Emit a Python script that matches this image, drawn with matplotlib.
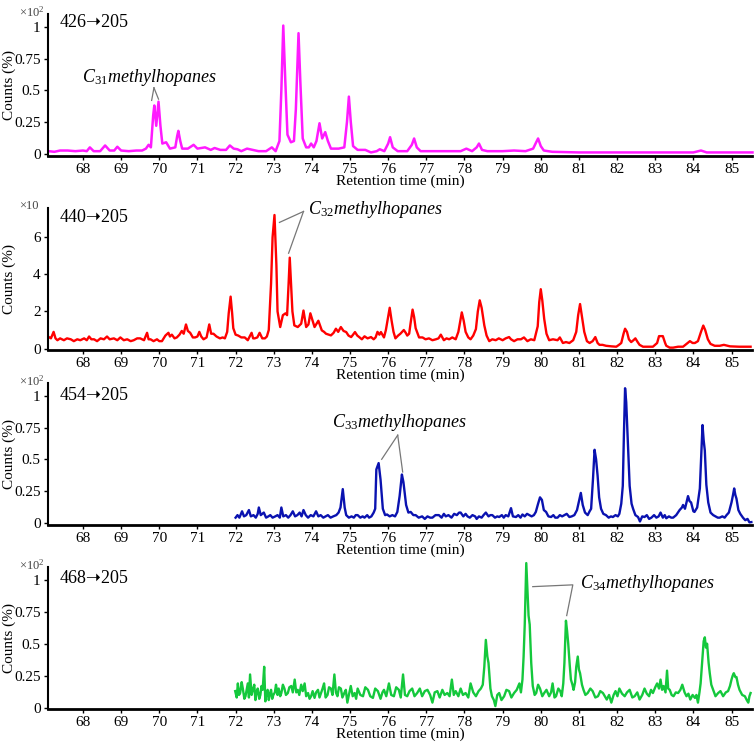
import matplotlib
matplotlib.use("Agg")
import matplotlib.pyplot as plt

plt.rcParams['font.family'] = ['Liberation Serif', 'DejaVu Serif']
plt.rcParams['mathtext.fontset'] = 'custom'
plt.rcParams['mathtext.rm'] = 'Liberation Serif'
plt.rcParams['mathtext.it'] = 'Liberation Serif:italic'

# retention time (min), counts
p426 = [(67.10,0.02),(67.25,0.015),(67.40,0.025),(67.60,0.025),(67.80,0.02),(68.00,0.025),(68.10,0.02),(68.18,0.05),(68.28,0.02),(68.45,0.02),(68.58,0.065),(68.70,0.025),(68.82,0.025),(68.90,0.055),(69.00,0.025),(69.20,0.02),(69.40,0.025),(69.55,0.025),(69.65,0.04),(69.72,0.07),(69.78,0.05),(69.84,0.30),(69.87,0.38),(69.92,0.22),(69.98,0.41),(70.03,0.22),(70.08,0.08),(70.18,0.09),(70.28,0.04),(70.42,0.05),(70.47,0.14),(70.50,0.18),(70.55,0.10),(70.60,0.04),(70.75,0.04),(70.90,0.07),(71.00,0.04),(71.20,0.05),(71.35,0.03),(71.45,0.045),(71.60,0.03),(71.75,0.03),(71.85,0.065),(71.95,0.04),(72.05,0.035),(72.15,0.02),(72.30,0.04),(72.45,0.03),(72.60,0.02),(72.80,0.02),(72.95,0.05),(73.05,0.02),(73.15,0.10),(73.20,0.50),(73.25,1.01),(73.30,0.60),(73.36,0.15),(73.45,0.09),(73.53,0.10),(73.58,0.35),(73.65,0.95),(73.70,0.55),(73.76,0.12),(73.85,0.05),(73.92,0.05),(73.98,0.08),(74.05,0.05),(74.12,0.10),(74.20,0.24),(74.27,0.12),(74.35,0.17),(74.42,0.10),(74.50,0.04),(74.70,0.04),(74.85,0.05),(74.92,0.25),(74.97,0.45),(75.02,0.25),(75.08,0.06),(75.20,0.03),(75.40,0.03),(75.55,0.01),(75.70,0.02),(75.78,0.035),(75.90,0.02),(76.00,0.08),(76.05,0.13),(76.12,0.05),(76.25,0.02),(76.50,0.02),(76.62,0.07),(76.68,0.12),(76.75,0.05),(76.85,0.02),(77.50,0.02),(77.90,0.02),(78.05,0.04),(78.20,0.02),(78.32,0.05),(78.38,0.08),(78.46,0.03),(78.60,0.02),(79.00,0.02),(79.30,0.025),(79.60,0.02),(79.80,0.04),(79.88,0.09),(79.93,0.12),(80.00,0.06),(80.08,0.025),(80.30,0.015),(81.00,0.01),(82.00,0.01),(84.00,0.01),(84.20,0.025),(84.35,0.01),(85.55,0.01)]

p440 = [(67.12,0.6),(67.16,0.55),(67.23,0.9),(67.28,0.55),(67.33,0.45),(67.40,0.55),(67.50,0.45),(67.58,0.55),(67.68,0.5),(67.76,0.4),(67.85,0.5),(67.93,0.45),(68.03,0.55),(68.10,0.45),(68.16,0.65),(68.22,0.5),(68.29,0.5),(68.37,0.4),(68.46,0.55),(68.55,0.5),(68.63,0.65),(68.70,0.5),(68.81,0.55),(68.90,0.45),(68.98,0.6),(69.07,0.45),(69.16,0.5),(69.25,0.4),(69.33,0.45),(69.42,0.55),(69.50,0.55),(69.60,0.45),(69.68,0.85),(69.72,0.5),(69.77,0.5),(69.85,0.4),(69.94,0.5),(70.00,0.4),(70.07,0.4),(70.16,0.7),(70.24,0.85),(70.28,0.65),(70.33,0.75),(70.40,0.55),(70.46,0.6),(70.53,0.75),(70.59,0.95),(70.64,0.8),(70.70,1.3),(70.75,0.95),(70.81,0.85),(70.88,0.6),(70.94,0.6),(71.00,0.65),(71.05,0.9),(71.10,0.65),(71.16,0.5),(71.24,0.6),(71.31,1.3),(71.36,0.8),(71.42,0.8),(71.50,0.65),(71.59,0.55),(71.66,0.6),(71.72,0.55),(71.78,0.9),(71.82,1.9),(71.87,2.8),(71.91,1.9),(71.94,1.1),(72.00,0.75),(72.07,0.7),(72.15,0.6),(72.24,0.6),(72.32,0.45),(72.42,0.85),(72.46,0.55),(72.50,0.55),(72.57,0.6),(72.63,0.85),(72.70,0.55),(72.77,0.55),(72.82,0.65),(72.87,1.0),(72.93,3.5),(72.97,6.0),(73.02,7.2),(73.07,4.5),(73.10,2.0),(73.17,1.16),(73.24,1.8),(73.31,1.9),(73.35,1.8),(73.39,3.5),(73.42,4.9),(73.46,3.2),(73.49,2.0),(73.54,1.25),(73.63,1.16),(73.72,1.34),(73.78,2.05),(73.85,1.16),(73.91,1.3),(73.96,1.9),(74.02,1.5),(74.07,1.16),(74.17,1.5),(74.26,0.98),(74.32,0.9),(74.37,0.8),(74.44,0.75),(74.50,0.71),(74.57,0.85),(74.63,1.07),(74.69,0.9),(74.76,1.16),(74.83,0.95),(74.90,0.89),(74.96,0.7),(75.03,0.62),(75.08,0.75),(75.13,0.89),(75.19,0.7),(75.24,0.62),(75.31,0.5),(75.38,0.66),(75.46,0.55),(75.55,0.62),(75.62,0.5),(75.67,0.6),(75.72,0.9),(75.77,0.75),(75.81,0.89),(75.89,0.6),(75.94,1.0),(75.99,1.6),(76.04,2.2),(76.09,1.5),(76.14,0.9),(76.19,0.55),(76.26,0.7),(76.32,0.8),(76.41,1.0),(76.46,0.85),(76.50,0.7),(76.55,0.8),(76.59,1.4),(76.64,2.1),(76.68,1.7),(76.72,1.1),(76.81,0.6),(76.90,0.6),(76.98,0.5),(77.07,0.55),(77.16,0.45),(77.25,0.5),(77.32,0.55),(77.38,0.75),(77.46,0.45),(77.53,0.55),(77.60,0.5),(77.68,0.6),(77.77,0.5),(77.84,0.9),(77.89,1.5),(77.93,1.95),(77.98,1.5),(78.03,0.9),(78.10,0.6),(78.16,0.5),(78.23,0.7),(78.30,1.05),(78.35,2.0),(78.40,2.6),(78.45,2.2),(78.52,1.25),(78.58,0.7),(78.65,0.4),(78.73,0.5),(78.82,0.45),(78.90,0.55),(79.00,0.45),(79.08,0.55),(79.17,0.62),(79.22,0.5),(79.30,0.4),(79.39,0.5),(79.48,0.5),(79.56,0.6),(79.65,0.4),(79.74,0.5),(79.83,0.45),(79.92,1.2),(79.96,2.5),(80.00,3.2),(80.04,2.6),(80.09,1.6),(80.15,0.8),(80.22,0.45),(80.32,0.5),(80.44,0.45),(80.50,0.6),(80.58,0.3),(80.66,0.35),(80.75,0.3),(80.85,0.45),(80.93,0.9),(80.98,1.8),(81.03,2.4),(81.08,1.7),(81.14,0.9),(81.21,0.4),(81.28,0.3),(81.36,0.4),(81.43,0.62),(81.49,0.3),(81.54,0.2),(81.62,0.2),(81.71,0.15),(81.85,0.12),(81.98,0.1),(82.05,0.2),(82.11,0.3),(82.17,0.8),(82.21,1.07),(82.26,0.9),(82.31,0.5),(82.37,0.35),(82.43,0.45),(82.48,0.55),(82.54,0.35),(82.59,0.2),(82.68,0.1),(82.77,0.1),(82.94,0.1),(83.05,0.3),(83.10,0.67),(83.20,0.67),(83.26,0.3),(83.29,0.15),(83.38,0.05),(83.47,0.05),(83.60,0.1),(83.73,0.1),(83.85,0.3),(83.91,0.4),(83.98,0.3),(84.04,0.3),(84.12,0.4),(84.20,0.9),(84.26,1.24),(84.31,1.0),(84.38,0.5),(84.45,0.25),(84.56,0.15),(84.69,0.15),(84.80,0.2),(84.96,0.12),(85.20,0.1),(85.50,0.1)]

p454 = [(72.00,0.04),(72.05,0.06),(72.10,0.04),(72.17,0.09),(72.22,0.05),(72.28,0.06),(72.35,0.10),(72.40,0.05),(72.47,0.06),(72.53,0.04),(72.58,0.07),(72.61,0.12),(72.66,0.06),(72.74,0.08),(72.80,0.04),(72.86,0.05),(72.91,0.06),(72.97,0.04),(73.04,0.05),(73.10,0.06),(73.16,0.04),(73.20,0.12),(73.25,0.05),(73.32,0.06),(73.38,0.04),(73.44,0.06),(73.50,0.09),(73.56,0.05),(73.62,0.06),(73.68,0.08),(73.73,0.05),(73.78,0.10),(73.84,0.06),(73.90,0.04),(73.97,0.06),(74.04,0.05),(74.11,0.09),(74.17,0.05),(74.23,0.06),(74.30,0.04),(74.36,0.05),(74.42,0.06),(74.49,0.04),(74.56,0.05),(74.64,0.06),(74.70,0.08),(74.75,0.12),(74.81,0.265),(74.86,0.12),(74.90,0.06),(74.97,0.04),(75.04,0.05),(75.10,0.04),(75.15,0.06),(75.20,0.06),(75.27,0.04),(75.33,0.05),(75.38,0.04),(75.45,0.06),(75.50,0.04),(75.56,0.05),(75.62,0.08),(75.66,0.11),(75.69,0.42),(75.75,0.47),(75.80,0.34),(75.86,0.11),(75.92,0.06),(75.97,0.065),(76.04,0.05),(76.11,0.06),(76.18,0.05),(76.24,0.085),(76.30,0.21),(76.36,0.38),(76.40,0.32),(76.47,0.14),(76.53,0.08),(76.59,0.085),(76.66,0.06),(76.72,0.06),(76.80,0.04),(76.89,0.05),(76.96,0.03),(77.03,0.05),(77.10,0.04),(77.16,0.04),(77.24,0.06),(77.33,0.06),(77.40,0.04),(77.46,0.07),(77.51,0.05),(77.58,0.06),(77.66,0.04),(77.73,0.07),(77.80,0.06),(77.86,0.08),(77.90,0.08),(77.97,0.05),(78.03,0.07),(78.08,0.05),(78.14,0.04),(78.21,0.06),(78.28,0.05),(78.32,0.03),(78.38,0.05),(78.45,0.04),(78.50,0.06),(78.56,0.08),(78.63,0.05),(78.68,0.06),(78.73,0.06),(78.80,0.04),(78.86,0.05),(78.91,0.045),(78.98,0.06),(79.03,0.04),(79.08,0.06),(79.15,0.05),(79.22,0.115),(79.27,0.05),(79.35,0.045),(79.41,0.06),(79.47,0.04),(79.52,0.065),(79.58,0.05),(79.64,0.07),(79.70,0.06),(79.76,0.05),(79.82,0.06),(79.87,0.085),(79.93,0.15),(79.98,0.20),(80.03,0.18),(80.08,0.10),(80.14,0.085),(80.20,0.05),(80.27,0.045),(80.33,0.06),(80.38,0.04),(80.44,0.04),(80.50,0.06),(80.56,0.05),(80.62,0.06),(80.68,0.07),(80.75,0.045),(80.81,0.05),(80.88,0.06),(80.95,0.10),(81.01,0.18),(81.05,0.235),(81.10,0.14),(81.16,0.08),(81.23,0.06),(81.28,0.09),(81.32,0.11),(81.37,0.35),(81.41,0.575),(81.45,0.50),(81.49,0.37),(81.53,0.20),(81.58,0.11),(81.64,0.07),(81.71,0.06),(81.78,0.04),(81.84,0.05),(81.89,0.045),(81.96,0.06),(82.02,0.05),(82.06,0.07),(82.11,0.15),(82.15,0.29),(82.18,0.7),(82.21,1.06),(82.24,0.95),(82.26,0.8),(82.30,0.5),(82.33,0.29),(82.38,0.15),(82.42,0.11),(82.48,0.06),(82.55,0.045),(82.60,0.01),(82.66,0.05),(82.72,0.045),(82.78,0.06),(82.84,0.03),(82.90,0.04),(82.97,0.06),(83.03,0.04),(83.09,0.05),(83.14,0.08),(83.20,0.04),(83.25,0.06),(83.29,0.035),(83.36,0.05),(83.42,0.04),(83.47,0.04),(83.55,0.06),(83.64,0.10),(83.70,0.12),(83.73,0.14),(83.78,0.11),(83.82,0.16),(83.86,0.21),(83.90,0.17),(83.94,0.16),(84.00,0.09),(84.03,0.085),(84.10,0.12),(84.17,0.27),(84.21,0.55),(84.24,0.77),(84.27,0.65),(84.30,0.57),(84.34,0.30),(84.39,0.16),(84.45,0.08),(84.52,0.06),(84.58,0.05),(84.64,0.04),(84.69,0.04),(84.76,0.05),(84.82,0.04),(84.87,0.06),(84.93,0.08),(85.00,0.16),(85.04,0.22),(85.07,0.27),(85.10,0.22),(85.13,0.19),(85.18,0.10),(85.23,0.07),(85.30,0.04),(85.36,0.02),(85.42,0.03),(85.47,0.003),(85.52,0.005)]

p468 = [(71.99,0.13),(72.03,0.08),(72.06,0.19),(72.09,0.10),(72.12,0.115),(72.16,0.20),(72.19,0.15),(72.23,0.07),(72.26,0.09),(72.29,0.14),(72.32,0.19),(72.35,0.08),(72.38,0.26),(72.42,0.10),(72.45,0.14),(72.49,0.18),(72.52,0.06),(72.55,0.12),(72.58,0.15),(72.62,0.07),(72.65,0.10),(72.68,0.17),(72.71,0.14),(72.75,0.32),(72.78,0.05),(72.80,0.09),(72.84,0.14),(72.87,0.06),(72.90,0.11),(72.93,0.14),(72.96,0.07),(72.99,0.10),(73.03,0.12),(73.06,0.18),(73.10,0.10),(73.13,0.15),(73.17,0.09),(73.20,0.115),(73.24,0.18),(73.28,0.15),(73.32,0.10),(73.37,0.115),(73.41,0.16),(73.46,0.17),(73.50,0.12),(73.55,0.22),(73.59,0.12),(73.63,0.14),(73.67,0.10),(73.72,0.18),(73.76,0.13),(73.81,0.19),(73.85,0.09),(73.90,0.115),(73.94,0.07),(73.98,0.09),(74.02,0.13),(74.07,0.077),(74.11,0.12),(74.16,0.14),(74.20,0.08),(74.24,0.115),(74.28,0.15),(74.32,0.19),(74.36,0.08),(74.41,0.10),(74.45,0.16),(74.50,0.15),(74.54,0.10),(74.59,0.26),(74.63,0.12),(74.67,0.09),(74.71,0.16),(74.76,0.15),(74.80,0.08),(74.85,0.115),(74.89,0.14),(74.93,0.04),(74.97,0.10),(75.02,0.17),(75.07,0.09),(75.12,0.115),(75.16,0.07),(75.20,0.15),(75.27,0.10),(75.34,0.09),(75.40,0.16),(75.47,0.14),(75.53,0.09),(75.60,0.077),(75.66,0.15),(75.73,0.13),(75.80,0.07),(75.85,0.12),(75.89,0.14),(75.95,0.09),(76.02,0.19),(76.08,0.10),(76.15,0.09),(76.21,0.16),(76.28,0.14),(76.33,0.08),(76.39,0.26),(76.44,0.10),(76.50,0.09),(76.56,0.13),(76.63,0.15),(76.69,0.09),(76.76,0.115),(76.83,0.15),(76.89,0.09),(76.96,0.13),(77.03,0.14),(77.10,0.10),(77.16,0.04),(77.22,0.12),(77.29,0.13),(77.35,0.08),(77.42,0.14),(77.48,0.10),(77.55,0.115),(77.61,0.09),(77.67,0.22),(77.72,0.10),(77.77,0.13),(77.84,0.09),(77.90,0.15),(77.96,0.10),(78.03,0.115),(78.10,0.08),(78.16,0.19),(78.23,0.12),(78.30,0.09),(78.37,0.13),(78.43,0.15),(78.48,0.18),(78.52,0.32),(78.56,0.53),(78.60,0.40),(78.63,0.35),(78.68,0.15),(78.72,0.09),(78.77,0.06),(78.81,0.013),(78.86,0.10),(78.91,0.115),(78.97,0.06),(79.04,0.09),(79.10,0.14),(79.17,0.13),(79.23,0.08),(79.30,0.115),(79.37,0.14),(79.44,0.19),(79.48,0.12),(79.52,0.22),(79.55,0.40),(79.58,0.65),(79.62,1.13),(79.66,0.86),(79.68,0.72),(79.71,0.65),(79.75,0.35),(79.79,0.17),(79.84,0.10),(79.88,0.115),(79.93,0.18),(79.98,0.15),(80.04,0.09),(80.09,0.115),(80.15,0.14),(80.22,0.09),(80.27,0.12),(80.31,0.19),(80.36,0.08),(80.40,0.09),(80.46,0.15),(80.51,0.13),(80.55,0.09),(80.59,0.19),(80.62,0.35),(80.66,0.68),(80.69,0.60),(80.72,0.50),(80.76,0.33),(80.79,0.22),(80.83,0.18),(80.86,0.14),(80.90,0.20),(80.93,0.32),(80.97,0.40),(81.00,0.30),(81.03,0.27),(81.08,0.18),(81.12,0.14),(81.17,0.10),(81.23,0.115),(81.30,0.15),(81.36,0.13),(81.43,0.08),(81.50,0.09),(81.56,0.13),(81.63,0.115),(81.68,0.09),(81.73,0.064),(81.79,0.10),(81.85,0.04),(81.91,0.10),(81.96,0.13),(82.01,0.09),(82.06,0.15),(82.13,0.11),(82.20,0.09),(82.26,0.12),(82.33,0.14),(82.40,0.08),(82.46,0.09),(82.53,0.12),(82.59,0.064),(82.66,0.10),(82.72,0.15),(82.78,0.11),(82.84,0.09),(82.89,0.14),(82.94,0.115),(83.00,0.16),(83.05,0.19),(83.10,0.15),(83.14,0.22),(83.18,0.14),(83.22,0.17),(83.27,0.12),(83.31,0.29),(83.34,0.15),(83.38,0.14),(83.43,0.10),(83.48,0.09),(83.54,0.12),(83.60,0.115),(83.66,0.14),(83.71,0.18),(83.77,0.12),(83.82,0.09),(83.87,0.11),(83.92,0.064),(83.98,0.10),(84.04,0.077),(84.08,0.10),(84.12,0.04),(84.16,0.12),(84.19,0.19),(84.24,0.40),(84.27,0.52),(84.30,0.55),(84.33,0.47),(84.36,0.50),(84.40,0.35),(84.43,0.27),(84.47,0.18),(84.52,0.14),(84.58,0.09),(84.65,0.115),(84.71,0.13),(84.78,0.09),(84.85,0.12),(84.91,0.13),(84.96,0.17),(85.00,0.22),(85.03,0.25),(85.06,0.27),(85.10,0.24),(85.13,0.24),(85.17,0.18),(85.21,0.14),(85.28,0.10),(85.35,0.09),(85.40,0.06),(85.44,0.04),(85.47,0.09),(85.50,0.115)]

transitions = ["426\u279d205", "440\u279d205", "454\u279d205", "468\u279d205"]
colors = ["#ff1aff", "#ff0000", "#0a12b0", "#14c83c"]
traces = [p426, p440, p454, p468]
scales = ["\u00d710$^2$", "\u00d710", "\u00d710$^2$", "\u00d710$^2$"]
yticks = [[0, 0.25, 0.5, 0.75, 1], [0, 2, 4, 6], [0, 0.25, 0.5, 0.75, 1], [0, 0.25, 0.5, 0.75, 1]]
ytick_labels = [["0", "0.25", "0.5", "0.75", "1"], ["0", "2", "4", "6"],
                ["0", "0.25", "0.5", "0.75", "1"], ["0", "0.25", "0.5", "0.75", "1"]]
ylims = [(-0.02, 1.10), (-0.06, 7.6), (-0.02, 1.10), (-0.01, 1.10)]
xticks = list(range(68, 86))
label_y = [0.94, 0.93, 0.91, 0.92]

# annotation: label text, label anchor, bracket line points
ann_text = ["$C_{31}$methylhopanes", "$C_{32}$methylhopanes",
            "$C_{33}$methylhopanes", "$C_{34}$methylhopanes"]
ann_pos = [(67.98, 0.60), (73.9, 7.5), (74.52, 0.79), (81.02, 0.97)]
ann_lines = [
    [[(69.86, 0.52), (69.80, 0.42)], [(69.86, 0.52), (69.98, 0.43)]],
    [[(73.78, 7.39), (73.15, 6.8)], [(73.78, 7.39), (73.39, 5.14)]],
    [[(76.25, 0.69), (75.83, 0.50)], [(76.25, 0.69), (76.38, 0.40)]],
    [[(79.79, 0.946), (80.84, 0.96), (80.68, 0.72)]],
]

fig = plt.figure(figsize=(7.54, 7.44), dpi=100)
bottoms = [0.790, 0.530, 0.294, 0.047]
for i in range(4):
    ax = fig.add_axes([0.063, bottoms[i], 0.935, 0.191])
    t = [p[0] for p in traces[i]]
    v = [p[1] for p in traces[i]]
    lw = 1.8 if i == 0 else 1.7
    ax.plot(t, v, color=colors[i], lw=lw, clip_on=False)
    ax.set_xlim(67.07, 85.55)
    ax.set_ylim(*ylims[i])
    ax.set_xticks(xticks)
    ax.set_yticks(yticks[i])
    ax.set_yticklabels(ytick_labels[i])
    ax.tick_params(labelsize=11, length=3, width=1, pad=2)
    for s in ["top", "right"]:
        ax.spines[s].set_visible(False)
    ax.spines["bottom"].set_linewidth(2)
    ax.spines["left"].set_linewidth(1.5)
    ax.set_xlabel("Retention time (min)", fontsize=11, labelpad=-1)
    ax.set_ylabel("Counts (%)", fontsize=11)
    ax.yaxis.set_label_coords(-0.044, 0.5)
    ax.text(-0.040, 1.01, scales[i], transform=ax.transAxes, fontsize=9, color="#444444", va="center")
    ax.text(0.017, label_y[i], transitions[i], transform=ax.transAxes, fontsize=13, va="center",
            family=['Liberation Serif', 'DejaVu Sans'])
    ax.text(ann_pos[i][0], ann_pos[i][1], ann_text[i], fontsize=13, style="italic", va="center")
    for seg in ann_lines[i]:
        ax.plot([p[0] for p in seg], [p[1] for p in seg], color="#777777", lw=0.9)

fig.savefig("out.png", dpi=100)
